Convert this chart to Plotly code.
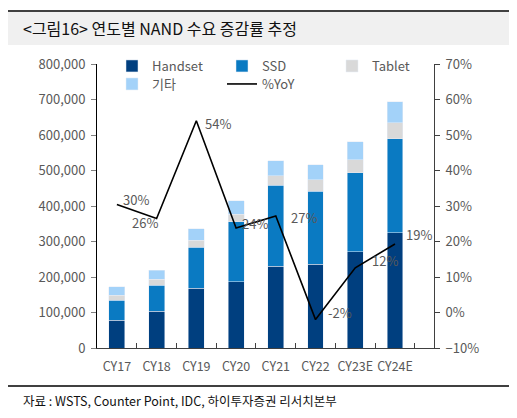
import plotly.graph_objects as go

categories = ["CY17", "CY18", "CY19", "CY20", "CY21", "CY22", "CY23E", "CY24E"]
handset = [78000, 104000, 169000, 186000, 231000, 236000, 271000, 324000]
ssd = [56000, 73000, 115000, 169000, 228000, 206000, 222000, 266000]
tablet = [15000, 17000, 20000, 22000, 26000, 32000, 37000, 44000]
others = [23000, 25000, 32000, 38000, 43000, 42000, 51000, 59000]
yoy = [30.4, 26.5, 54.0, 23.8, 27.2, -2.0, 12.6, 19.3]
yoy_labels = ["30%", "26%", "54%", "24%", "27%", "-2%", "12%", "19%"]
label_shift_x = [19, -12, 22, 19, 28, 24, 30, 24]
label_shift_y = [5, -4, -3, 5, -2, 7, 7, 9]

FONT = "Noto Sans CJK KR"
TXT = "#595959"

# page body has an 8px margin; size the figure so it fits the 517x418 window
OFF = 8
W, H = 517 - OFF, 418 - OFF
L, R, T, B = 97 - OFF, 83, 64 - OFF, 70
pw, ph = W - L - R, H - T - B
def px(x):
    return (x - 97) / pw
def py(y):
    return (348 - y) / ph

fig = go.Figure()
fig.add_bar(x=categories, y=handset, name="Handset", marker_color="#003F7F", legend="legend")
fig.add_bar(x=categories, y=ssd, name="SSD", marker_color="#0A7AC2", legend="legend2")
fig.add_bar(x=categories, y=tablet, name="Tablet", marker_color="#D9D9D9", legend="legend3")
fig.add_bar(x=categories, y=others, name="기타", marker_color="#A3D2F9", legend="legend4")
fig.add_scatter(x=categories, y=yoy, name="%YoY", mode="lines", yaxis="y2",
                line=dict(color="black", width=1.6), legend="legend5")

for c, v, t, sx, sy in zip(categories, yoy, yoy_labels, label_shift_x, label_shift_y):
    fig.add_annotation(x=c, y=v, yref="y2", text=t, showarrow=False,
                       xshift=sx, yshift=sy, font=dict(size=13, color=TXT, family=FONT))

fig.add_shape(type="rect", xref="paper", yref="paper", x0=px(8), x1=px(510), y0=py(45), y1=py(12),
              fillcolor="#F0F0F0", line_width=0, layer="below")
fig.add_shape(type="line", xref="paper", yref="paper", x0=px(8), x1=px(510), y0=py(11), y1=py(11),
              line=dict(color="black", width=1.3))
fig.add_shape(type="line", xref="paper", yref="paper", x0=px(8), x1=px(510), y0=py(386), y1=py(386),
              line=dict(color="black", width=1.3))
fig.add_annotation(xref="paper", yref="paper", x=px(21), y=py(28), xanchor="left", yanchor="middle",
                   text="&lt;그림16&gt; 연도별 NAND 수요 증감률 추정", showarrow=False,
                   font=dict(size=16, color="#111111", family=FONT))
fig.add_annotation(xref="paper", yref="paper", x=px(21), y=py(400), xanchor="left", yanchor="middle",
                   text="자료 : WSTS, Counter Point, IDC, 하이투자증권 리서치본부", showarrow=False,
                   font=dict(size=12.5, color="#111111", family=FONT))

def leg(xp, yp):
    return dict(orientation="h", x=px(xp), y=py(yp), xanchor="left", yanchor="middle",
                bgcolor="rgba(0,0,0,0)", font=dict(size=13, color=TXT, family=FONT))

fig.update_layout(
    width=W, height=H, barmode="stack", bargap=0.6, showlegend=True,
    margin=dict(l=L, r=R, t=T, b=B, autoexpand=False),
    plot_bgcolor="white", paper_bgcolor="white",
    font=dict(family=FONT, size=13, color=TXT),
    legend=leg(112, 66),
    legend2=leg(222, 66),
    legend3=leg(332, 66),
    legend4=leg(112, 84),
    legend5=leg(222, 84),
    xaxis=dict(showline=True, linecolor="#404040", linewidth=1, ticks="inside",
               tickson="boundaries", ticklen=5, tickcolor="#404040", showgrid=False,
               tickangle=0, ticklabelstandoff=7, tickfont=dict(size=12.5, color=TXT)),
    yaxis=dict(range=[0, 800000], dtick=100000, tickformat=",d", showline=True,
               linecolor="black", linewidth=1, ticks="outside", ticklen=5, tickcolor="#808080",
               showgrid=False, zeroline=False, ticklabelstandoff=3,
               tickfont=dict(size=13, color=TXT)),
    yaxis2=dict(range=[-10, 70], dtick=10, ticksuffix="%", overlaying="y", side="right",
                showline=True, linecolor="#404040", linewidth=1, ticks="outside", ticklen=5,
                tickcolor="#404040", showgrid=False, zeroline=False, ticklabelstandoff=3,
                tickfont=dict(size=13, color=TXT)),
)

fig.write_html("out.html")
